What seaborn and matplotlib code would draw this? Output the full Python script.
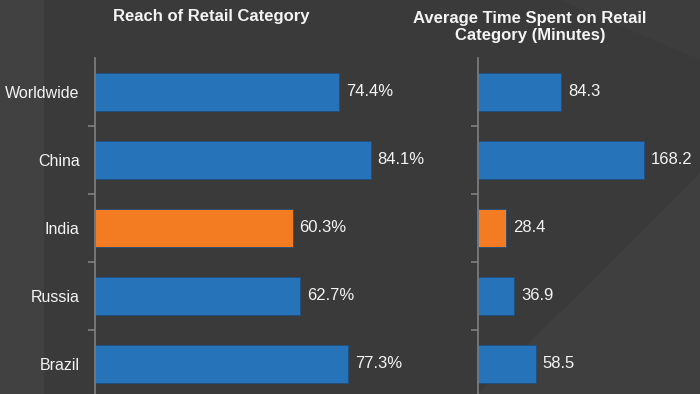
import numpy as np
import pandas as pd
import matplotlib
matplotlib.use("Agg")
import matplotlib.pyplot as plt
from matplotlib.patches import Polygon
import seaborn as sns

countries = ["Worldwide", "China", "India", "Russia", "Brazil"]
reach_pct = [74.4, 84.1, 60.3, 62.7, 77.3]
time_minutes = [84.3, 168.2, 28.4, 36.9, 58.5]
highlight = "India"

title_left = "Reach of Retail Category"
title_right = "Average Time Spent on Retail\nCategory (Minutes)"

blue = "#2673b9"
orange = "#f37b21"
bg = "#3a3a3a"
txt = "#f4f4f4"
spine_col = "#808080"

sns.set_theme(style="dark")
plt.rcParams["font.family"] = ["Liberation Sans", "DejaVu Sans"]

df = pd.DataFrame({"country": countries, "reach": reach_pct, "minutes": time_minutes})
palette = {c: (orange if c == highlight else blue) for c in countries}

fig = plt.figure(figsize=(7, 3.94), dpi=100)
fig.patch.set_facecolor(bg)

# background decoration on its own axes, in pixel coords
bgax = fig.add_axes([0, 0, 1, 1], zorder=-10)
bgax.set_xlim(0, 700)
bgax.set_ylim(394, 0)
bgax.axis("off")
bgax.add_patch(Polygon([[0, 0], [44, 0], [44, 394], [0, 394]], facecolor="#414141", edgecolor="none"))
bgax.add_patch(Polygon([[700, 173], [700, 394], [478, 394]], facecolor="#3f3f3f", edgecolor="none"))
bgax.add_patch(Polygon([[560, 0], [700, 0], [700, 60]], facecolor="#3d3d3d", edgecolor="none"))

bottom = -4 / 394
height = (398 - 58) / 394
ax1 = fig.add_axes([95 / 700, bottom, 344 / 700, height])
ax2 = fig.add_axes([478 / 700, bottom, 212 / 700, height])

panels = [(ax1, "reach", 105, "{:.1f}%"), (ax2, "minutes", 215, "{:.1f}")]
for ax, col, xmax, fmt in panels:
    sns.barplot(data=df, x=col, y="country", hue="country", palette=palette,
                legend=False, orient="h", width=0.55, ax=ax,
                edgecolor="#1f4f80", linewidth=0.6, saturation=1)
    for cont in ax.containers:
        ax.bar_label(cont, labels=[fmt.format(v) for v in cont.datavalues],
                     padding=5, color=txt, fontsize=12)
    ax.set_xlim(0, xmax)
    ax.set_ylim(4.5, -0.5)
    ax.set_facecolor("none")
    ax.set_xlabel("")
    ax.set_ylabel("")
    ax.set_xticks([])
    for s in ["top", "right", "bottom"]:
        ax.spines[s].set_visible(False)
    ax.spines["left"].set_color(spine_col)
    ax.spines["left"].set_linewidth(1.2)
    ax.set_yticks(np.arange(0.5, 4.5, 1), minor=True)
    ax.tick_params(axis="y", which="minor", length=5, width=1.2,
                   color=spine_col, direction="out", left=True)
    ax.tick_params(axis="y", which="major", length=0, pad=11,
                   labelcolor=txt, labelsize=11.5)
    ax.grid(False)

ax2.set_yticklabels([])

fig.text(211 / 700, 1 - 16 / 394, title_left, ha="center", va="center",
         color=txt, fontsize=12, fontweight="bold")
fig.text(530 / 700, 1 - 27 / 394, title_right, ha="center", va="center",
         color=txt, fontsize=12, fontweight="bold", linespacing=1.15)

fig.savefig("out.png", dpi=100, facecolor=bg)
